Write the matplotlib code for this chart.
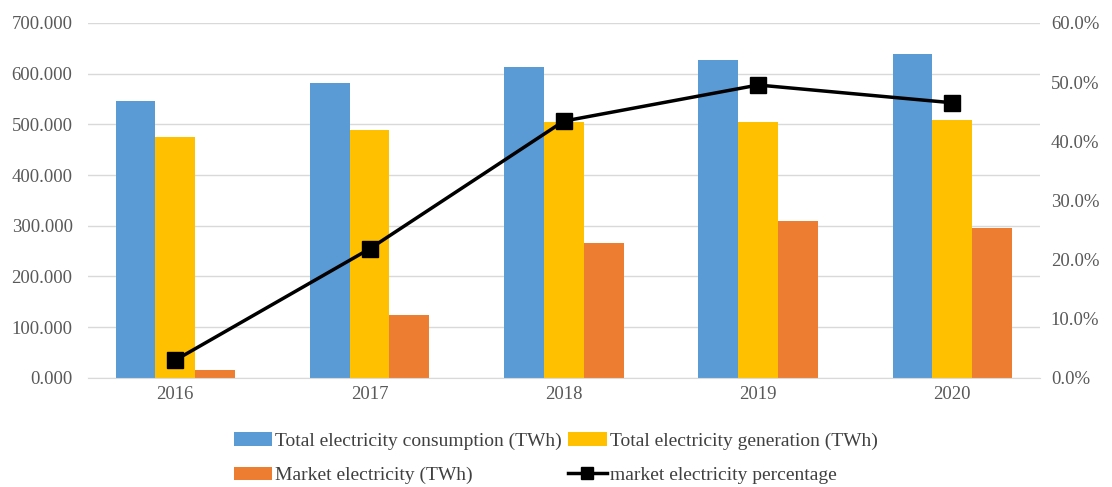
import matplotlib.pyplot as plt
import numpy as np
from matplotlib.ticker import FuncFormatter

# data
years = ['2016', '2017', '2018', '2019', '2020']
consumption = [546, 582, 613, 627, 639]
generation = [475, 489, 505, 505, 509]
market = [16, 124, 266, 310, 296]
market_pct = [3.0, 21.8, 43.4, 49.5, 46.5]

plt.rcParams['font.family'] = ['Liberation Serif', 'DejaVu Serif']

fig = plt.figure(figsize=(11.12, 4.87), dpi=100)
ax = fig.add_axes([0.079, 0.224, 0.856, 0.729])
ax2 = ax.twinx()

x = np.arange(len(years))
w = 0.205
b1 = ax.bar(x - w, consumption, w, color='#5B9BD5', label='Total electricity consumption (TWh)', zorder=2)
b2 = ax.bar(x, generation, w, color='#FFC000', label='Total electricity generation (TWh)', zorder=2)
b3 = ax.bar(x + w, market, w, color='#ED7D31', label='Market electricity (TWh)', zorder=2)

ln, = ax2.plot(x, market_pct, color='black', lw=2.5, marker='s', markersize=11,
               label='market electricity percentage')

ax.set_ylim(0, 700)
ax.set_yticks(range(0, 701, 100))
ax.yaxis.set_major_formatter(FuncFormatter(lambda v, p: f'{v:.3f}'))
ax2.set_ylim(0, 60)
ax2.set_yticks(range(0, 61, 10))
ax2.yaxis.set_major_formatter(FuncFormatter(lambda v, p: f'{v:.1f}%'))

ax.set_xlim(-0.45, 4.45)
ax.set_xticks(x)
ax.set_xticklabels(years)

ax.grid(axis='y', color='#D9D9D9', lw=1, zorder=0)
ax.set_axisbelow(True)
for a in (ax, ax2):
    for s in a.spines.values():
        s.set_visible(False)
    a.tick_params(length=0, labelsize=13.5, colors='#595959')
ax.spines['bottom'].set_visible(True)
ax.spines['bottom'].set_color('#D9D9D9')
ax.tick_params(axis='y', pad=11)
ax2.tick_params(axis='y', pad=8)
ax.tick_params(axis='x', pad=6)

# legend fills column-wise, so order handles to read row by row
handles = [b1, b3, b2, ln]
fig.legend(handles, [h.get_label() for h in handles],
           loc='upper left', bbox_to_anchor=(0.203, 0.128), ncol=2, frameon=False,
           fontsize=14, handlelength=2.0, handletextpad=0.15, columnspacing=0.3,
           labelspacing=0.85, labelcolor='#404040', borderaxespad=0,
           markerscale=0.8)

fig.savefig('out.png', dpi=100)
